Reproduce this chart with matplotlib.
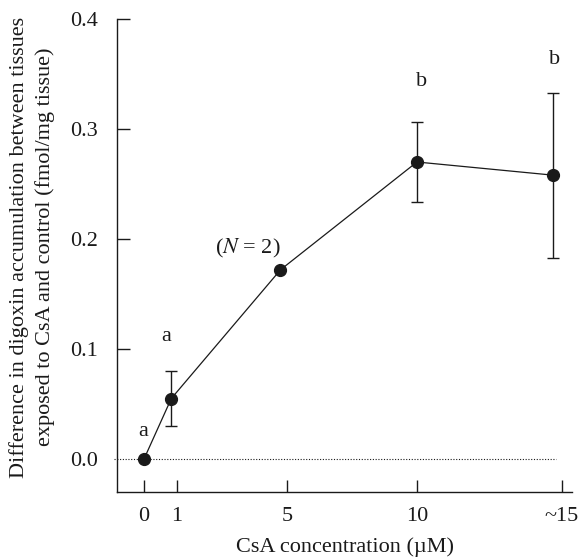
import matplotlib
matplotlib.use("Agg")
import matplotlib.pyplot as plt

plt.rcParams['font.family'] = ['Liberation Serif', 'DejaVu Serif']
plt.rcParams['mathtext.fontset'] = 'stix'

# data
conc = [0, 1, 5, 10, 15]
diff = [0.0, 0.055, 0.172, 0.270, 0.258]
err = [0.0, 0.025, 0.0, 0.036, 0.075]
tick_pos = [0, 1.2, 5.25, 10, 15.3]
tick_labels = ['0', '1', '5', '10', '~15']
y_ticks = [0.0, 0.1, 0.2, 0.3, 0.4]
y_tick_labels = ['0.0', '0.1', '0.2', '0.3', '0.4']
letters = [(-0.04, 0.025, 'a'), (0.8, 0.111, 'a'), (3.8, 0.191, '($N$ = 2)'),
           (10.15, 0.343, 'b'), (15.05, 0.363, 'b')]

ink = '#1a1a1a'
fs = 16

fig = plt.figure(figsize=(5.81, 5.58), dpi=100)
ax = fig.add_axes([117 / 581, 1 - 492 / 558, (572 - 117) / 581, (492 - 19) / 558])

# dotted zero line, slightly past the y axis
ax.plot([-1.1, 15.1], [0, 0], ls=(0, (1, 1.5)), color=ink, lw=0.8, clip_on=False)

ax.errorbar(conc, diff, yerr=err, fmt='-o', color=ink, ms=8.5, lw=0.9,
            elinewidth=1.0, capsize=4.3, capthick=1.0, clip_on=False, zorder=3)

for x, y, s in letters:
    ax.text(x, y, s, ha='center', va='center', fontsize=fs, color=ink)

ax.set_xlim(-0.99, 15.68)
ax.set_ylim(-0.03, 0.4)
ax.set_xticks(tick_pos)
ax.set_xticklabels(tick_labels)
ax.set_yticks(y_ticks)
ax.set_yticklabels(y_tick_labels)
ax.tick_params(direction='in', length=9, width=1.0, color=ink, labelsize=fs,
               labelcolor=ink)
ax.tick_params(axis='y', pad=14)
ax.tick_params(axis='x', pad=11)
ax.yaxis.get_major_ticks()[0].tick1line.set_visible(False)

for side in ['top', 'right']:
    ax.spines[side].set_visible(False)
for side in ['left', 'bottom']:
    ax.spines[side].set_color(ink)
    ax.spines[side].set_linewidth(1.0)

ax.set_xlabel('CsA concentration (µM)', fontsize=fs, color=ink, labelpad=8)
fig.text(32 / 581, 1 - 247 / 558,
         'Difference in digoxin accumulation between tissues\n'
         'exposed to CsA and control (fmol/mg tissue)',
         rotation=90, ha='center', va='center', multialignment='center',
         fontsize=fs, color=ink, linespacing=1.35)

fig.savefig('out.png', dpi=100)
